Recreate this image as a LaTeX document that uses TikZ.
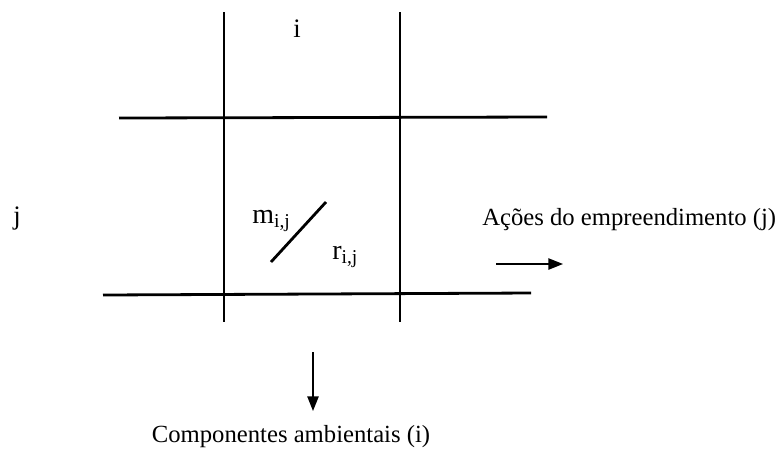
\documentclass[tikz,border=0pt]{standalone}
\usepackage{fontspec}
\setmainfont{Liberation Serif}
\usetikzlibrary{arrows.meta}

\tikzset{
  grid/.style={line width=2.1pt},
  lbl/.style={font=\fontsize{18.5}{21}\selectfont, inner sep=0pt},
  idx/.style={font=\fontsize{20}{23}\selectfont, inner sep=0pt},
  cell/.style={font=\fontsize{21}{24}\selectfont, inner sep=0pt},
  dir/.style={line width=1.1pt, -{Triangle[length=11pt,width=8.5pt]}}
}

\begin{document}
\begin{tikzpicture}[x=0.75pt,y=-0.75pt]
 \useasboundingbox (0,0) rectangle (780,455);
 % matrix lines
 \draw[grid] (224,12) -- (224,322);
 \draw[grid] (400,12) -- (400,322);
 \draw[grid] (119,118) -- (547,117);
 \draw[grid] (103,295) -- (531,293);
 \draw[grid] (271,262) -- (326,202);
 % labels
 \node[idx] (coli) at (297,29) {i};
 \node[idx] (rowj) at (17,218) {j};
 \node[cell, anchor=base west] (mij) at (252,223) {m\textsubscript{i,j}};
 \node[cell, anchor=base west] (rij) at (332,259) {r\textsubscript{i,j}};
 \node[lbl, anchor=base west] (acoes) at (482,225) {Ações do empreendimento (j)};
 \node[lbl] (comp) at (291,437) {Componentes ambientais (i)};
 % directions
 \coordinate (ar0) at (496,264);
 \coordinate (ar1) at (563,264);
 \coordinate (ad0) at (313,352);
 \coordinate (ad1) at (313,411);
 \draw[dir] (ar0) -- (ar1);
 \draw[dir] (ad0) -- (ad1);
\end{tikzpicture}
\end{document}
